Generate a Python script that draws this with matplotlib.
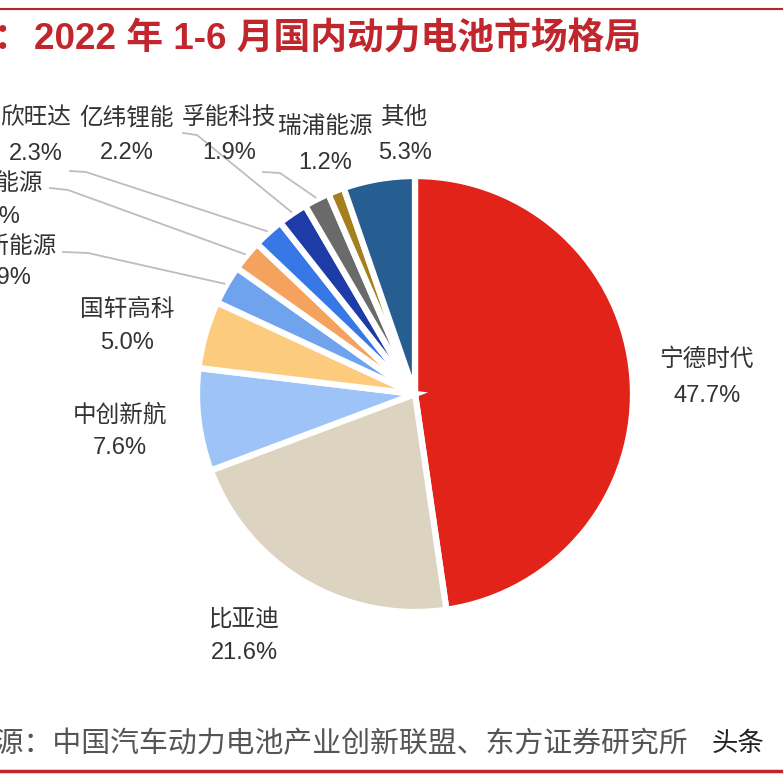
import numpy as np
import matplotlib
matplotlib.use('Agg')
import matplotlib.pyplot as plt

plt.rcParams['font.family'] = ['Liberation Sans', 'Noto Sans CJK SC', 'DejaVu Sans']

# data (clockwise from 12 o'clock)
companies = ['宁德时代', '比亚迪', '中创新航', '国轩高科', 'LG新能源', '蜂巢能源',
             '欣旺达', '亿纬锂能', '孚能科技', '瑞浦能源', '其他']
shares = [47.7, 21.6, 7.6, 5.0, 2.9, 2.3, 2.3, 2.2, 1.9, 1.2, 5.3]
colors = ['#E2231A', '#DDD3C1', '#9DC3F7', '#FDCB7E', '#6FA3EE', '#F6A25F',
          '#3877E6', '#1E3CA8', '#6A6A6A', '#A57F1F', '#275E91']

title_prefix = '图表：'
title = '2022 年 1-6 月国内动力电池市场格局'
source = '资料来源：中国汽车动力电池产业创新联盟、东方证券研究所'

# label layout in pixel coords: (x name, y name, x pct, y pct, alignment)
label_pos = [
    (707, 360, 707, 396, 'center'),
    (244, 620, 244, 653, 'center'),
    (120, 415, 120, 448, 'center'),
    (127, 310, 127, 343, 'center'),
    (56, 247, 32, 278, 'right'),
    (43, 184, 21, 217, 'right'),
    (71, 118, 63, 154, 'right'),
    (127, 118, 127, 153, 'center'),
    (229, 118, 229, 153, 'center'),
    (325, 127, 325, 163, 'center'),
    (405, 118, 405, 153, 'center'),
]
# leader lines: slice index -> (start, elbow)
leaders = {
    4: [(63, 252), (88, 253)],
    5: [(50, 188), (68, 190)],
    6: [(70, 171), (86, 172)],
    7: [(183, 133), (197, 135)],
    8: [(263, 172), (280, 173)],
}

W = H = 783
fig = plt.figure(figsize=(W / 100, H / 100), dpi=100)
ax = fig.add_axes([0, 0, 1, 1])

cx, cy, R = 415, 394, 218
# y axis is inverted (pixel coords), so counterclock in data = clockwise on screen
wedges, _ = ax.pie(shares, colors=colors, startangle=-90, counterclock=True,
                   center=(cx, cy), radius=R, frame=True,
                   wedgeprops=dict(edgecolor='white', linewidth=4.5))
ax.set_xlim(0, W)
ax.set_ylim(H, 0)
ax.set_aspect('equal')
ax.axis('off')

for i, (name, val) in enumerate(zip(companies, shares)):
    xn, yn, xp, yp, ha = label_pos[i]
    ax.text(xn, yn, name, ha=ha, va='center', fontsize=17, color='#333333')
    ax.text(xp, yp, f'{val:.1f}%', ha=ha, va='center', fontsize=17, color='#333333')

for i, pts in leaders.items():
    w = wedges[i]
    mid = np.deg2rad((w.theta1 + w.theta2) / 2)
    end = (cx + R * 1.01 * np.cos(mid), cy + R * 1.01 * np.sin(mid))
    xs = [p[0] for p in pts] + [end[0]]
    ys = [p[1] for p in pts] + [end[1]]
    ax.plot(xs, ys, color='#BDBDBD', linewidth=1.3)

# title, source, rules
ax.text(31, 40, title_prefix, ha='right', va='center', fontsize=26.5, fontweight='bold',
        color='#C0262C')
ax.text(34, 40, title, ha='left', va='center', fontsize=26.5, fontweight='bold',
        color='#C0262C')
ax.text(688, 744, source, ha='right', va='center', fontsize=20.8, color='#555555')
ax.text(712, 744, '头条', ha='left', va='center', fontsize=19, color='#222222')
ax.plot([0, W], [9, 9], color='#B0262B', linewidth=1.5)
ax.plot([0, W], [771, 771], color='#C0262C', linewidth=2.5)

fig.savefig('out.png', dpi=100)
